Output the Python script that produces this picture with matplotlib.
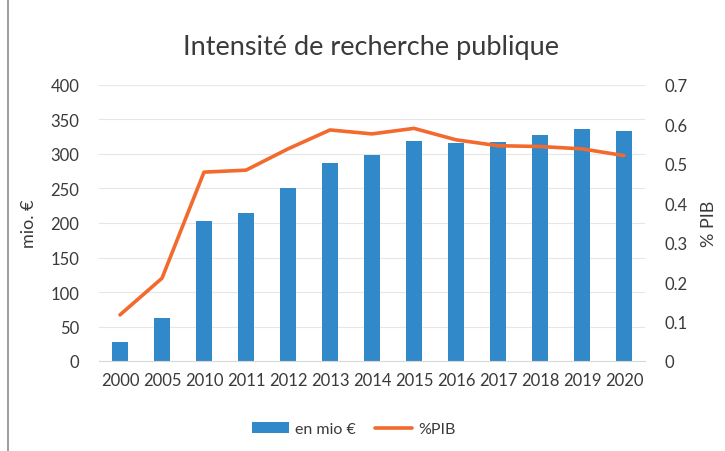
import matplotlib
matplotlib.use("Agg")
import matplotlib.pyplot as plt
import numpy as np
from matplotlib.patches import Rectangle

plt.rcParams['font.family'] = ['Lato', 'DejaVu Sans']

years = ['2000', '2005', '2010', '2011', '2012', '2013', '2014', '2015',
         '2016', '2017', '2018', '2019', '2020']
mio_eur = [27, 63, 203, 214, 250, 287, 298, 319, 316, 318, 328, 336, 334]
pct_pib = [0.117, 0.21, 0.479, 0.484, 0.538, 0.586, 0.576, 0.590,
           0.561, 0.546, 0.544, 0.538, 0.521]

blue = '#3189c9'
orange = '#f26a2e'
text_col = '#3a3a3a'

fig = plt.figure(figsize=(7.25, 4.52), dpi=100)
ax = fig.add_axes([99/725, 1 - 362/452, 546/725, 276/452])
x = np.arange(len(years))

bars = ax.bar(x, mio_eur, width=0.4, color=blue, label='en mio €', zorder=2)
ax.set_ylim(0, 400)
ax.set_yticks(np.arange(0, 401, 50))
ax.set_xlim(-0.5, len(years) - 0.5)
ax.set_xticks(x)
ax.set_xticklabels(years)
ax.grid(axis='y', color='#e6e6e6', lw=0.8, zorder=0)
ax.set_ylabel('mio. €', fontsize=13, color=text_col, labelpad=10)
for s in ['top', 'right', 'left']:
    ax.spines[s].set_visible(False)
ax.spines['bottom'].set_color('#d9d9d9')
ax.tick_params(length=0, labelsize=12, labelcolor=text_col, pad=8)
ax.tick_params(axis='y', pad=14)

ax2 = ax.twinx()
line, = ax2.plot(x, pct_pib, color=orange, lw=2.6, label='%PIB',
                 solid_capstyle='round', zorder=3)
ax2.set_ylim(0, 0.7)
ax2.set_yticks(np.arange(0, 0.71, 0.1))
ax2.set_yticklabels(['0'] + ['%.1f' % v for v in np.arange(0.1, 0.71, 0.1)])
ax2.set_ylabel('% PIB', fontsize=13, color=text_col, labelpad=10)
for s in ['top', 'right', 'left', 'bottom']:
    ax2.spines[s].set_visible(False)
ax2.tick_params(length=0, labelsize=12, labelcolor=text_col, pad=14)

fig.text(371/725, 1 - 47/452, 'Intensité de recherche publique', ha='center',
         va='center', fontsize=19.5, color=text_col)

fig.legend([bars, line], ['en mio €', '%PIB'], loc='center',
           bbox_to_anchor=(354/725, 1 - 430/452), ncol=2, frameon=False,
           fontsize=11.5, handlelength=2.3, handletextpad=0.4,
           columnspacing=1.2, labelcolor=text_col)

fig.patches.append(Rectangle((8/725, -0.01), 1.5, 1.5, transform=fig.transFigure,
                             fill=False, edgecolor='#8c8c8c', lw=1.2))

fig.savefig('out.png', dpi=100)
